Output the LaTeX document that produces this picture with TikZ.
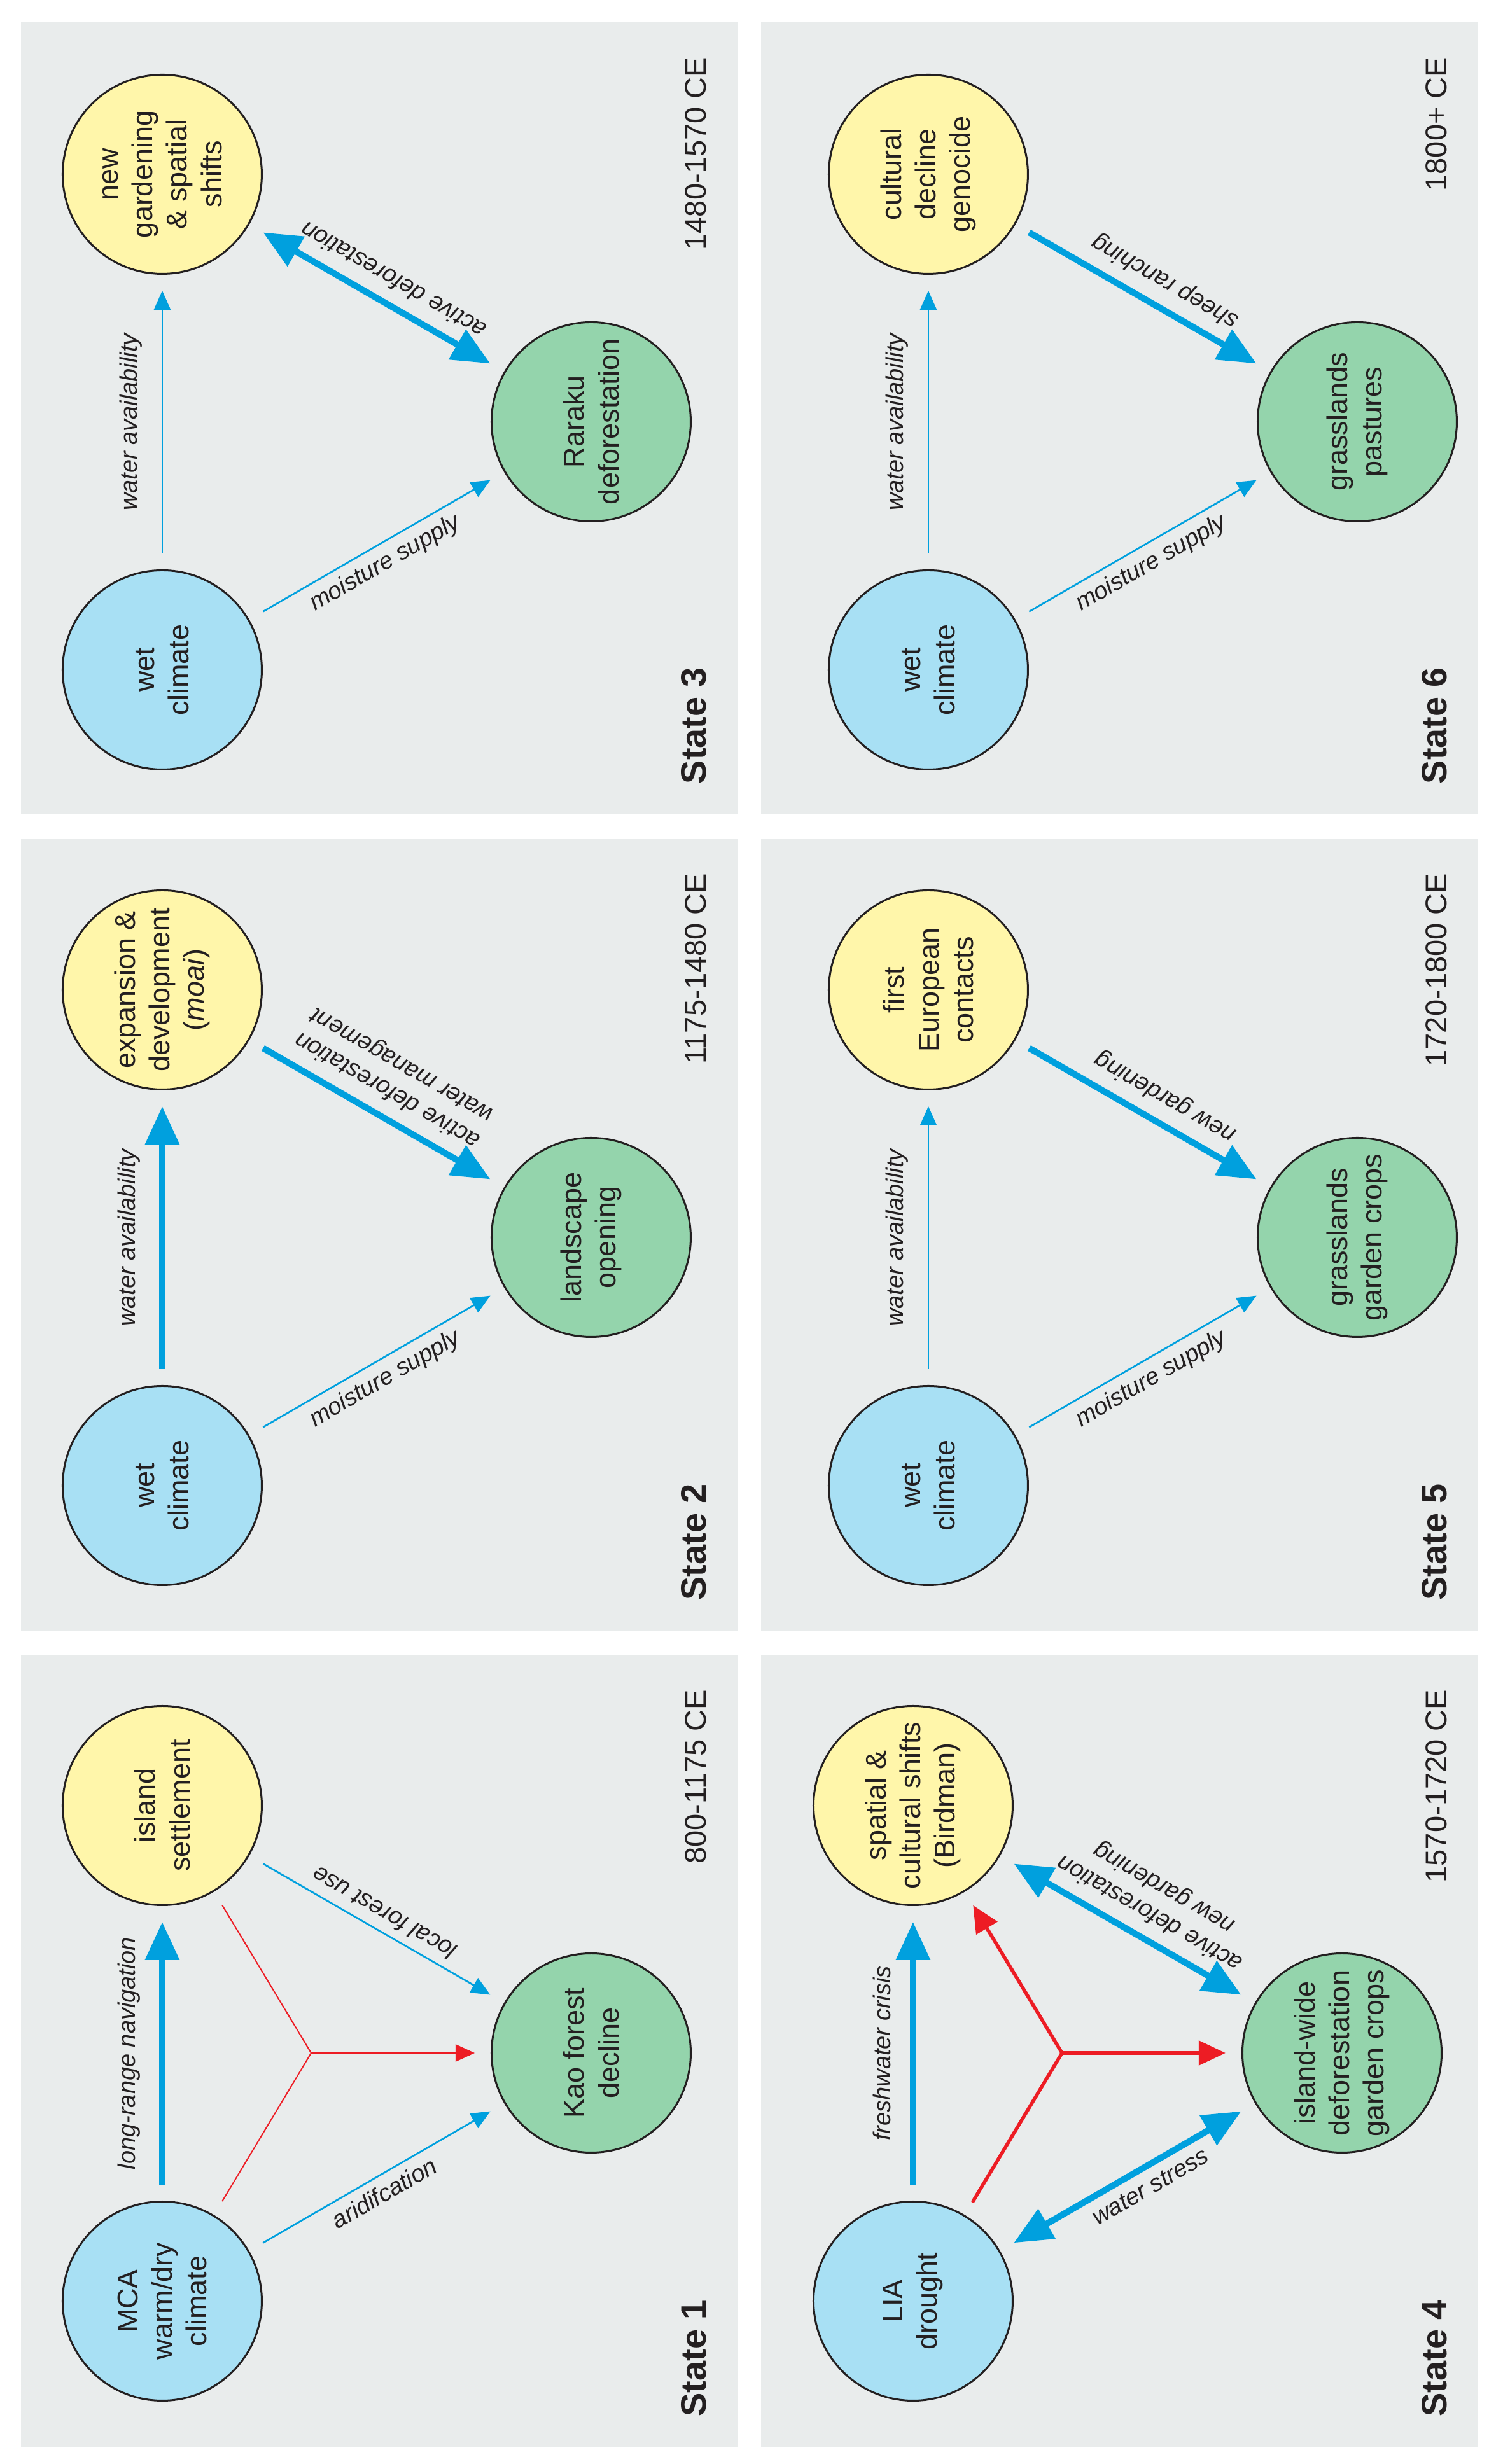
\documentclass[tikz,border=0pt]{standalone}
\usepackage{fontspec}
\setmainfont{Liberation Sans}
\usetikzlibrary{arrows.meta, positioning}

\definecolor{panelgray}{HTML}{E9ECEC}
\definecolor{climateblue}{HTML}{A8E0F4}
\definecolor{societyyellow}{HTML}{FFF6AA}
\definecolor{landgreen}{HTML}{94D4AC}
\definecolor{linkblue}{HTML}{00A0DE}
\definecolor{linkred}{HTML}{ED1C24}
\definecolor{inkgray}{HTML}{231F20}

\tikzset{
  factor/.style = {circle, draw=inkgray, line width=0.3mm, minimum size=31.3mm,
    inner sep=0pt, text=inkgray, font=\fontsize{12.8}{15.4}\selectfont},
  climate/.style = {factor, fill=climateblue},
  society/.style = {factor, fill=societyyellow},
  land/.style = {factor, fill=landgreen},
  panel/.style = {fill=panelgray},
  weak link/.style = {draw=linkblue, line width=0.27mm,
    -{Triangle[length=3mm, width=2.6mm]}, shorten <=2.5mm, shorten >=2.5mm},
  strong link/.style = {draw=linkblue, line width=1mm,
    -{Triangle[length=6mm, width=5.2mm]}, shorten <=2.5mm, shorten >=2.5mm},
  mutual link/.style = {strong link,
    {Triangle[length=6mm, width=5.2mm]}-{Triangle[length=6mm, width=5.2mm]}},
  fork line/.style = {draw=linkred, line width=0.2mm, shorten <=2.5mm, shorten >=2.5mm},
  fork arrow/.style = {draw=linkred, line width=0.2mm,
    -{Triangle[length=3mm, width=2.7mm]}, shorten >=2.5mm},
  fork bold/.style = {draw=linkred, line width=0.55mm, line cap=round, shorten <=2.5mm},
  fork bold arrow/.style = {draw=linkred, line width=0.55mm, line cap=round,
    -{Triangle[length=4.2mm, width=3.8mm]}, shorten >=2.5mm},
  linklabel/.style = {font=\itshape\fontsize{10.8}{13}\selectfont, text=inkgray, inner sep=0pt},
  statelabel/.style = {font=\bfseries\fontsize{15.9}{19}\selectfont, text=inkgray, inner sep=0pt},
  datelabel/.style = {font=\fontsize{13.4}{16}\selectfont, text=inkgray, inner sep=0pt}
}

\begin{document}
\begin{tikzpicture}[x=0.1mm, y=0.1mm, rotate=90, transform shape,
    every node/.style = {align=center}]
\fill[white] (0,0) rectangle (3873,2351);
\useasboundingbox (0,0) rectangle (3873,2351);

% State 1
\fill[panel] (27,1191) rectangle (1272,2318);
\node[climate] (b1) at (256,2096) {MCA\\warm/dry\\climate};
\node[society] (y1) at (1035,2096) {island\\settlement};
\node[land] (g1) at (646,1422) {Kao forest\\decline};
\coordinate (j1) at (646,1862);
\draw[strong link] (b1) -- node[linklabel, above=3mm] {long-range navigation} (y1);
\draw[weak link] (b1) -- node[linklabel, pos=0.45, rotate=-60, below=2.4mm] {aridifcation} (g1);
\draw[weak link] (y1) -- node[linklabel, pos=0.45, rotate=60, below=2.4mm] {local forest use} (g1);
\draw[fork line] (b1) -- (j1) -- (y1);
\draw[fork arrow] (j1) -- (g1);
\node[statelabel, anchor=base west] (s1) at (74,1241) {State 1};
\node[datelabel, anchor=base east] (d1) at (1218,1241) {800-1175 CE};

% State 2
\fill[panel] (1310,1191) rectangle (2555,2318);
\node[climate] (b2) at (1538,2096) {wet\\climate};
\node[society] (y2) at (2317,2096) {expansion \&\\development\\(\textit{moai})};
\node[land] (g2) at (1928,1422) {landscape\\opening};
\draw[strong link] (b2) -- node[linklabel, above=3mm] {water availability} (y2);
\draw[weak link] (b2) -- node[linklabel, pos=0.45, rotate=-60, below=2.4mm] {moisture supply} (g2);
\draw[strong link] (y2) -- node[linklabel, pos=0.42, rotate=60, below=3.8mm] {active deforestation\\water management} (g2);
\node[statelabel, anchor=base west] (s2) at (1357,1241) {State 2};
\node[datelabel, anchor=base east] (d2) at (2501,1241) {1175-1480 CE};

% State 3
\fill[panel] (2593,1191) rectangle (3838,2318);
\node[climate] (b3) at (2820,2096) {wet\\climate};
\node[society] (y3) at (3599,2096) {new\\gardening\\\& spatial\\shifts};
\node[land] (g3) at (3210,1422) {Raraku\\deforestation};
\draw[weak link] (b3) -- node[linklabel, above=3mm] {water availability} (y3);
\draw[weak link] (b3) -- node[linklabel, pos=0.45, rotate=-60, below=2.4mm] {moisture supply} (g3);
\draw[mutual link] (y3) -- node[linklabel, pos=0.45, rotate=60, below=3.6mm] {active deforestation} (g3);
\node[statelabel, anchor=base west] (s3) at (2640,1241) {State 3};
\node[datelabel, anchor=base east] (d3) at (3784,1241) {1480-1570 CE};

% State 4
\fill[panel] (27,28) rectangle (1272,1155);
\node[climate] (b4) at (256,916) {LIA\\drought};
\node[society] (y4) at (1035,916) {spatial \&\\cultural shifts\\(Birdman)};
\node[land] (g4) at (646,242) {island-wide\\deforestation\\garden crops};
\coordinate (j4) at (646,682);
\draw[strong link] (b4) -- node[linklabel, above=3mm] {freshwater crisis} (y4);
\draw[mutual link] (b4) -- node[linklabel, pos=0.5, rotate=-60, below=2.7mm] {water stress} (g4);
\draw[mutual link] (y4) -- node[linklabel, pos=0.47, rotate=60, below=3.6mm] {active deforestation\\new gardening} (g4);
\draw[fork bold] (b4) -- (j4);
\draw[fork bold arrow] (j4) -- (y4);
\draw[fork bold arrow] (j4) -- (g4);
\node[statelabel, anchor=base west] (s4) at (74,78) {State 4};
\node[datelabel, anchor=base east] (d4) at (1218,78) {1570-1720 CE};

% State 5
\fill[panel] (1310,28) rectangle (2555,1155);
\node[climate] (b5) at (1538,892) {wet\\climate};
\node[society] (y5) at (2317,892) {first\\European\\contacts};
\node[land] (g5) at (1928,218) {grasslands\\garden crops};
\draw[weak link] (b5) -- node[linklabel, above=3mm] {water availability} (y5);
\draw[weak link] (b5) -- node[linklabel, pos=0.45, rotate=-60, below=2.4mm] {moisture supply} (g5);
\draw[strong link] (y5) -- node[linklabel, pos=0.47, rotate=60, below=3.6mm] {new gardening} (g5);
\node[statelabel, anchor=base west] (s5) at (1357,78) {State 5};
\node[datelabel, anchor=base east] (d5) at (2501,78) {1720-1800 CE};

% State 6
\fill[panel] (2593,28) rectangle (3838,1155);
\node[climate] (b6) at (2820,892) {wet\\climate};
\node[society] (y6) at (3599,892) {cultural\\decline\\genocide};
\node[land] (g6) at (3210,218) {grasslands\\pastures};
\draw[weak link] (b6) -- node[linklabel, above=3mm] {water availability} (y6);
\draw[weak link] (b6) -- node[linklabel, pos=0.45, rotate=-60, below=2.4mm] {moisture supply} (g6);
\draw[strong link] (y6) -- node[linklabel, pos=0.47, rotate=60, below=3.6mm] {sheep ranching} (g6);
\node[statelabel, anchor=base west] (s6) at (2640,78) {State 6};
\node[datelabel, anchor=base east] (d6) at (3784,78) {1800+ CE};
\end{tikzpicture}
\end{document}
